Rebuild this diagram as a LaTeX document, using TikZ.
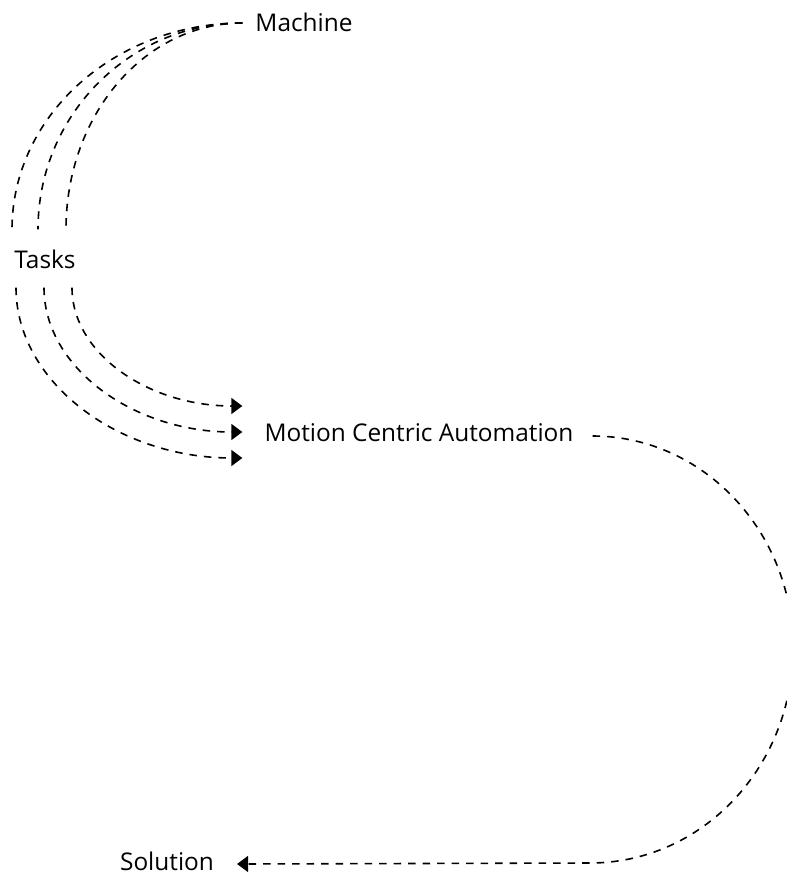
\documentclass[tikz,border=0pt]{standalone}
\usepackage{fontspec}
\setmainfont{Open Sans}
\usetikzlibrary{arrows.meta}

\begin{document}
\begin{tikzpicture}[x=1pt, y=1pt,
    word/.style={inner sep=0pt, font=\fontsize{24.4}{28}\selectfont},
    flow/.style={line width=1.6pt, dash pattern=on 7.5pt off 7pt},
    tip/.style={-{Triangle[length=11pt, width=16pt]}}]

  \useasboundingbox (0,0) rectangle (787,-876);

  \node[word] (machine) at (304,-22) {Machine};
  \node[word] (tasks) at (45,-259) {Tasks};
  \node[word] (mca) at (419,-433) {Motion Centric Automation};
  \node[word] (solution) at (167,-861) {Solution};

  \coordinate (bend) at (793,-648);
  \coordinate (foot) at (590,-863);

  % machine to tasks
  \foreach \dx/\rx in {-33/127, -7/113, 21/98}
    \draw[flow] ([xshift=-13pt, yshift=-1pt]machine.west)
      to[out=180, in=90, out distance=\rx pt, in distance=114pt]
      ([xshift=\dx pt, yshift=20pt]tasks.north);

  % tasks to motion centric automation
  \foreach \dx/\dy/\ry/\rx in {-29/-25/94/125, -1/1/80/109, 27/27/66/94}
    \draw[flow, tip] ([xshift=\dx pt, yshift=-19pt]tasks.south)
      to[out=-90, in=180, out distance=\ry pt, in distance=\rx pt]
      ([xshift=-22pt, yshift=\dy pt]mca.west);

  % motion centric automation to solution
  \draw[flow, tip] ([xshift=19pt, yshift=-3pt]mca.east)
    to[out=0, in=90, out distance=110pt, in distance=117pt] (bend)
    to[out=-90, in=0, out distance=119pt, in distance=112pt] (foot)
    -- ([xshift=23pt, yshift=-3pt]solution.east);

\end{tikzpicture}
\end{document}
